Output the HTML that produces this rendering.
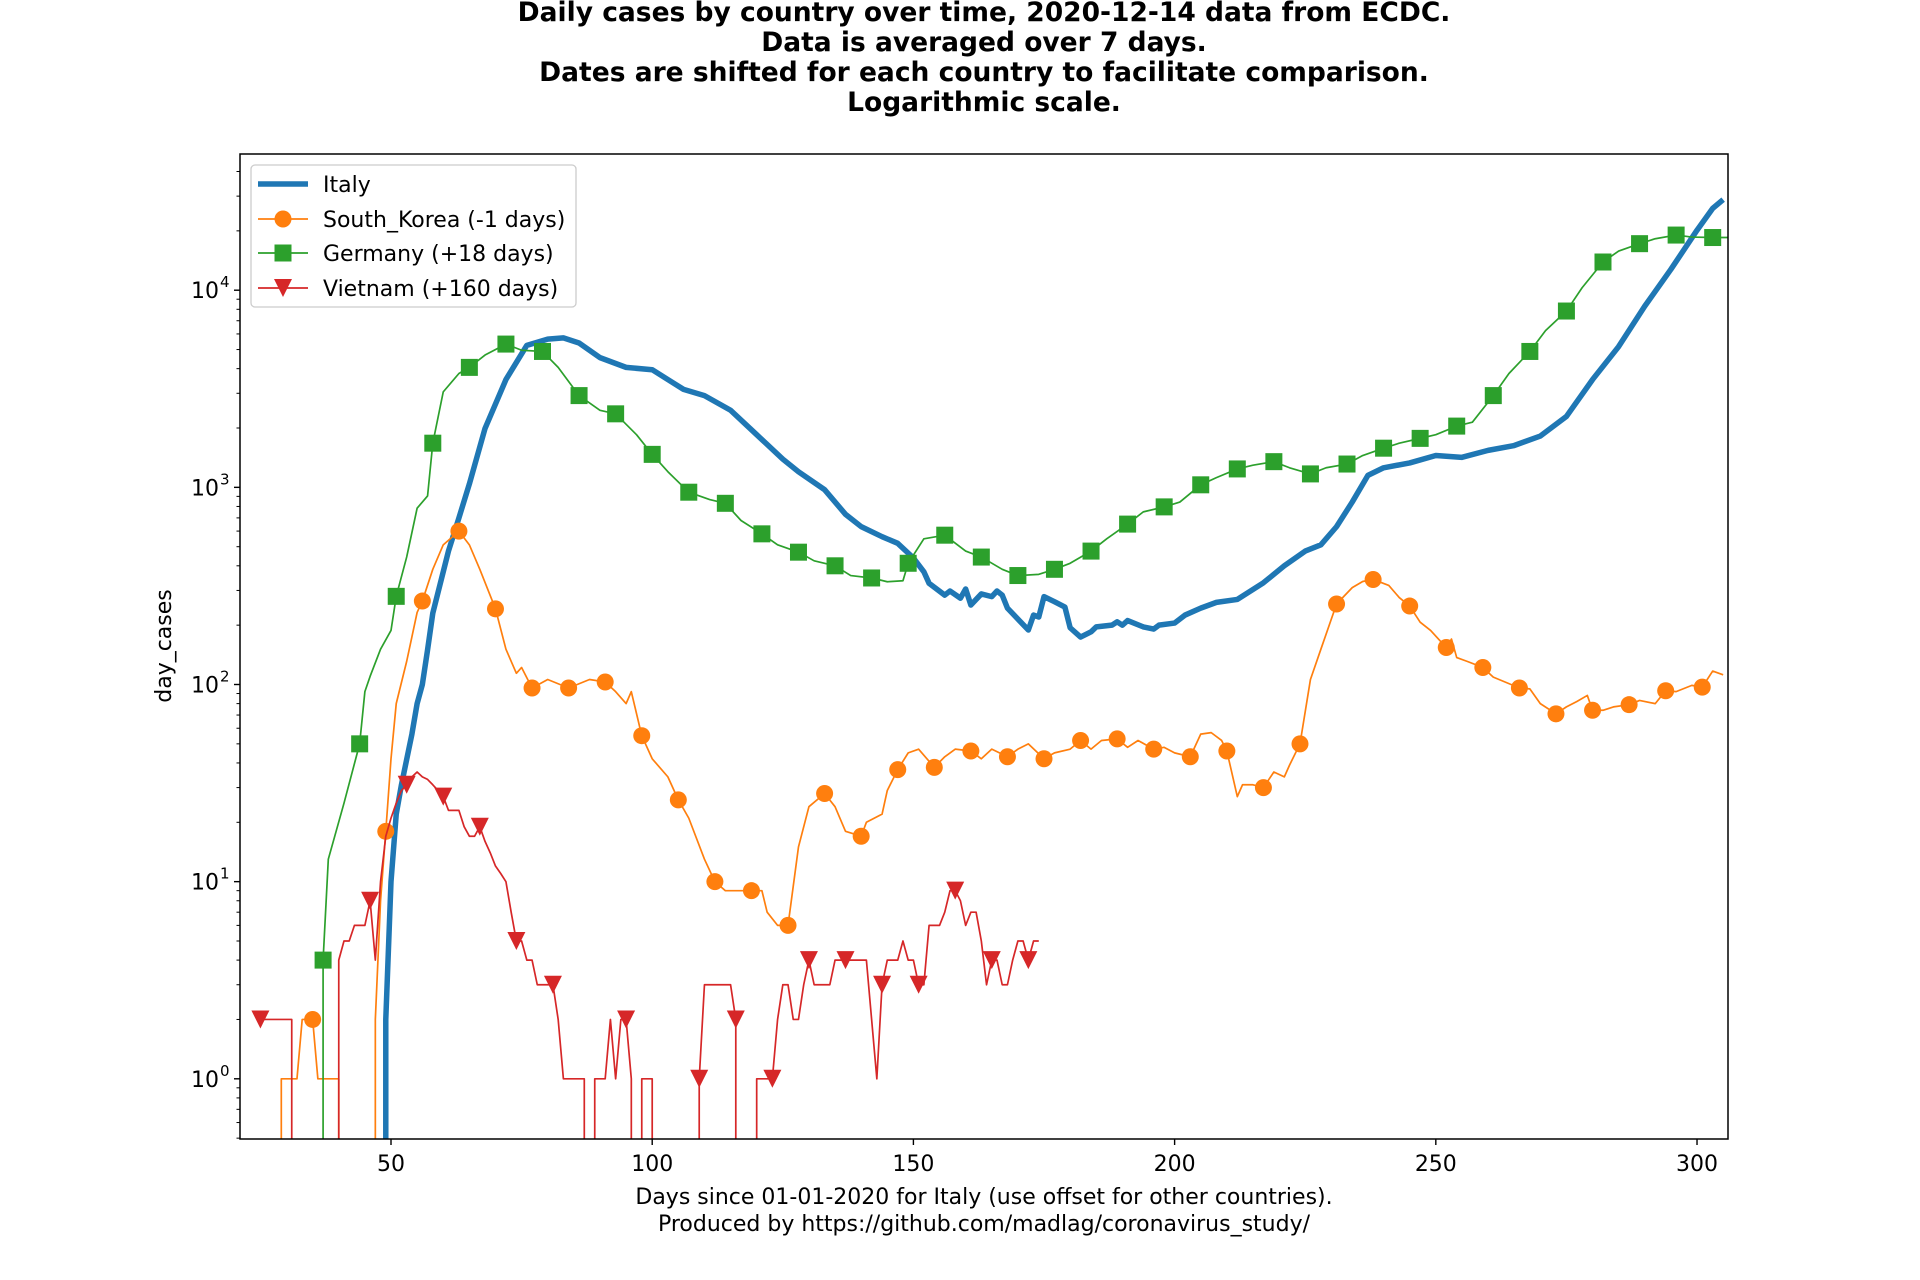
<!DOCTYPE html>
<html><head><meta charset="utf-8"><style>
html,body{margin:0;padding:0;background:#fff;width:1920px;height:1280px;overflow:hidden;}
svg{display:block;font-family:"DejaVu Sans","Liberation Sans",sans-serif;}
</style></head><body>
<svg id="chart" width="1920" height="1280" viewBox="0 0 1920 1280" xmlns="http://www.w3.org/2000/svg">
<rect width="1920" height="1280" fill="#fff"/>
<g font-weight="bold" font-size="26.5" text-anchor="middle" fill="#000">
<text x="984" y="21">Daily cases by country over time, 2020-12-14 data from ECDC.</text>
<text x="984" y="51">Data is averaged over 7 days.</text>
<text x="984" y="81">Dates are shifted for each country to facilitate comparison.</text>
<text x="984" y="111">Logarithmic scale.</text>
</g>
<defs><clipPath id="plotclip"><rect x="240" y="154" width="1488" height="985"/></clipPath></defs>
<g id="ticks"></g>
<g id="series" clip-path="url(#plotclip)"></g>
<rect x="240" y="154" width="1488" height="985" fill="none" stroke="#000" stroke-width="1.5"/>
<text x="0" y="0" transform="translate(171,646) rotate(-90)" text-anchor="middle" font-size="22">day_cases</text>
<text x="984" y="1204" text-anchor="middle" font-size="22">Days since 01-01-2020 for Italy (use offset for other countries).</text>
<text x="984" y="1231" text-anchor="middle" font-size="22">Produced by https://github.com/madlag/coronavirus_study/</text>
<g>
<rect x="251" y="165" width="325" height="142" rx="4" fill="#fff" fill-opacity="0.8" stroke="#ccc" stroke-width="1.3"/>
<g>
<line x1="258" y1="184" x2="308" y2="184" stroke="#1f77b4" stroke-width="5.5"/>
<text x="323" y="192" font-size="22">Italy</text></g>
<g>
<line x1="258" y1="219" x2="308" y2="219" stroke="#ff7f0e" stroke-width="1.7"/>
<circle cx="283" cy="219" r="8.5" fill="#ff7f0e"/>
<text x="323" y="227" font-size="22">South_Korea (-1 days)</text></g>
<g>
<line x1="258" y1="253" x2="308" y2="253" stroke="#2ca02c" stroke-width="1.7"/>
<rect x="274.5" y="244.5" width="17" height="17" fill="#2ca02c"/>
<text x="323" y="261" font-size="22">Germany (+18 days)</text></g>
<g>
<line x1="258" y1="288" x2="308" y2="288" stroke="#d62728" stroke-width="1.7"/>
<polygon points="274,279 292,279 283,297" fill="#d62728"/>
<text x="323" y="296" font-size="22">Vietnam (+160 days)</text></g>
</g>
</svg>
<script>
const xTicks = [50, 100, 150, 200, 250, 300];
const yTickExps = [0, 1, 2, 3, 4];

const itDays = [48,49,50,51,52,54,55,56,57,58,61,63,65,68,72,76,80,83,86,90,95,100,103,106,110,115,120,125,128,133,137,140,144,147,150,152,153,156,157,159,160,161,163,165,166,167,168,172,173,174,175,177,179,180,182,184,185,188,189,190,191,194,196,197,200,202,205,208,212,217,221,225,228,231,234,237,240,245,250,255,260,265,270,275,280,285,290,295,300,303,305];
const itVals = [0,2,10,22,31,56,80,100,150,230,475,700,1040,1990,3520,5250,5650,5730,5400,4550,4060,3950,3520,3140,2920,2460,1850,1390,1200,973,730,632,562,520,438,373,326,284,298,274,305,253,288,279,298,284,244,189,225,220,279,263,247,194,174,185,196,200,208,200,211,196,191,200,205,225,244,261,270,328,400,475,511,632,842,1150,1257,1330,1450,1420,1540,1630,1820,2290,3520,5180,8300,12760,20150,26000,28800];

const krDays = [28,29,32,33,35,36,40,41,42,46,47,48,49,50,51,53,55,56,58,60,63,65,67,70,72,74,75,77,80,84,88,91,93,95,96,98,100,103,105,107,110,112,114,119,121,122,124,126,128,130,133,135,137,140,141,144,145,147,149,151,154,156,158,161,163,165,168,170,172,175,177,180,182,184,186,189,191,193,196,198,200,203,205,207,209,210,212,213,215,217,219,221,222,224,226,228,231,234,236,238,241,243,245,247,249,252,253,254,256,259,261,264,266,268,270,273,275,277,279,280,282,284,287,289,292,294,296,299,301,303,305];
const krVals = [0,1,1,2,2,1,1,0,0,0,2,8,18,42,80,131,232,265,384,511,600,511,384,242,151,114,122,96,106,96,106,103,92,80,92,55,42,34,26,21,13,10,9,9,9,7,6,6,15,24,28,24,18,17,20,22,29,37,45,47,38,43,47,46,42,47,43,47,50,42,45,47,52,47,52,53,48,52,47,48,45,43,56,57,52,46,27,31,31,30,36,34,39,50,106,151,256,310,333,341,318,276,250,207,188,154,170,137,131,122,109,101,96,95,80,71,77,82,88,74,74,77,79,83,80,93,92,99,97,117,112];

const deDays = [36,37,38,41,44,45,46,48,50,51,53,55,57,58,60,63,65,68,72,75,79,82,86,90,93,97,100,103,107,111,114,117,121,124,128,131,135,138,142,145,148,149,152,156,160,163,167,170,174,177,180,184,187,191,194,198,201,205,208,212,215,219,222,226,229,233,236,240,243,247,250,254,257,261,264,268,271,275,278,282,285,289,292,296,299,303,306];
const deVals = [0,4,13,25,50,92,110,151,188,280,443,784,905,1675,3050,3780,4060,4690,5330,4960,4890,4060,2920,2460,2360,1850,1470,1200,945,867,830,679,581,511,469,424,400,357,347,332,336,412,548,572,475,443,384,357,362,384,412,475,548,651,751,796,842,1030,1120,1240,1295,1350,1257,1170,1257,1313,1450,1580,1675,1772,1850,2045,2140,2920,3780,4890,6240,7840,10290,13900,15800,17220,18240,19040,18600,18500,18500];

const vnDays = [];
const vnVals = [2,2,2,2,2,2,2, 0,0,0,0,0,0,0,0, 4,5,5,6,6,6,8,4,10,17,21,25,29,31,34,36,34,33,31,29,27,23,23,23,19,17,17,19,16,14,12,11,10,7,5,5,4,4,3,3,3,3,2,1,1,1,1,1,0,1,1,1,2,1,2,2,1,0,1,1,1,0,0,0,0,0,0,0,0,1,3,3,3,3,3,3,2,0,0,0,1,1,1,1,2,3,3,2,2,3,4,3,3,3,3,4,4,4,4,4,4,4,2,1,3,4,4,4,5,4,4,3,3,6,6,6,7,9,9,8,6,7,7,5,3,4,4,3,3,4,5,5,4,5,5];
const vnStart = 25;
for (let i = 0; i < vnVals.length; i++) vnDays.push(vnStart + i);

const NS = 'http://www.w3.org/2000/svg';
const X0 = 240, X1 = 1728, Y0 = 154, Y1 = 1139;
const xMin = 21.095, xMax = 305.93;
const yDecadePx = 197.15, yOne = 1078.8;
const FLOOR = 1145;
function xs(d) { return X0 + (d - xMin) * (X1 - X0) / (xMax - xMin); }
function ys(v) { return yOne - Math.log10(v) * yDecadePx; }
function mk(tag, attrs) { const e = document.createElementNS(NS, tag); for (const k in attrs) e.setAttribute(k, attrs[k]); return e; }

const ticks = document.getElementById('ticks');
xTicks.forEach(t => {
  const x = xs(t);
  const l = mk('line', {x1: x, x2: x, y1: Y1, y2: Y1 + 6, stroke: '#000', 'stroke-width': 1.4});
  
  
  ticks.appendChild(l);
  const tx = mk('text', {x: x, y: 1171, 'text-anchor': 'middle', 'font-size': 22});
  
  
  tx.textContent = t;
  ticks.appendChild(tx);
});
yTickExps.forEach(e => {
  const y = ys(Math.pow(10, e));
  const l = mk('line', {x1: X0 - 6, x2: X0, y1: y, y2: y, stroke: '#000', 'stroke-width': 1.4});
  
  
  ticks.appendChild(l);
  const tx = mk('text', {x: 219, y: y + 8, 'text-anchor': 'end', 'font-size': 22});
  
  
  tx.textContent = '10';
  ticks.appendChild(tx);
  const sup = mk('text', {x: 220, y: y - 3, 'font-size': 15});
  
  
  sup.textContent = e;
  ticks.appendChild(sup);
});
for (let e = -1; e <= 4; e++) {
  for (let m = 2; m <= 9; m++) {
    const y = ys(m * Math.pow(10, e));
    if (y < Y0 || y > Y1) continue;
    const l = mk('line', {x1: X0 - 3.5, x2: X0, y1: y, y2: y, stroke: '#000', 'stroke-width': 1});
    
    
    ticks.appendChild(l);
  }
}

const series = document.getElementById('series');
function drawLine(days, vals, color, width, name) {
  const pts = [];
  for (let i = 0; i < days.length; i++) {
    if (vals[i] > 0) {
      pts.push(xs(days[i]).toFixed(2) + ',' + ys(vals[i]).toFixed(2));
    } else {
      if (i > 0 && vals[i - 1] > 0) pts.push(xs(days[i - 1]).toFixed(2) + ',' + FLOOR);
      if (i < days.length - 1 && vals[i + 1] > 0) pts.push(xs(days[i + 1]).toFixed(2) + ',' + FLOOR);
    }
  }
  const pl = mk('polyline', {points: pts.join(' '), fill: 'none', stroke: color, 'stroke-width': width, 'stroke-linejoin': 'round'});
  
  
  series.appendChild(pl);
}
function drawMarkers(days, vals, start, shape, color, name) {
  days.forEach((d, i) => {
    if ((d - start) % 7 !== 0 || d < start || vals[i] <= 0) return;
    const x = xs(d), y = ys(vals[i]);
    let m;
    if (shape === 'circle') m = mk('circle', {cx: x, cy: y, r: 8.5, fill: color});
    else if (shape === 'square') m = mk('rect', {x: x - 8.5, y: y - 8.5, width: 17, height: 17, fill: color});
    else m = mk('polygon', {points: (x - 9) + ',' + (y - 9) + ' ' + (x + 9) + ',' + (y - 9) + ' ' + x + ',' + (y + 9), fill: color});
    
    
    series.appendChild(m);
  });
}
drawLine(itDays, itVals, '#1f77b4', 5.5, 'italy-line');
drawLine(krDays, krVals, '#ff7f0e', 1.7, 'south-korea-line');
drawMarkers(krDays, krVals, 35, 'circle', '#ff7f0e', 'south-korea-marker');
drawLine(deDays, deVals, '#2ca02c', 1.7, 'germany-line');
drawMarkers(deDays, deVals, 37, 'square', '#2ca02c', 'germany-marker');
drawLine(vnDays, vnVals, '#d62728', 1.7, 'vietnam-line');
drawMarkers(vnDays, vnVals, 25, 'triangle', '#d62728', 'vietnam-marker');
</script>
</body></html>
